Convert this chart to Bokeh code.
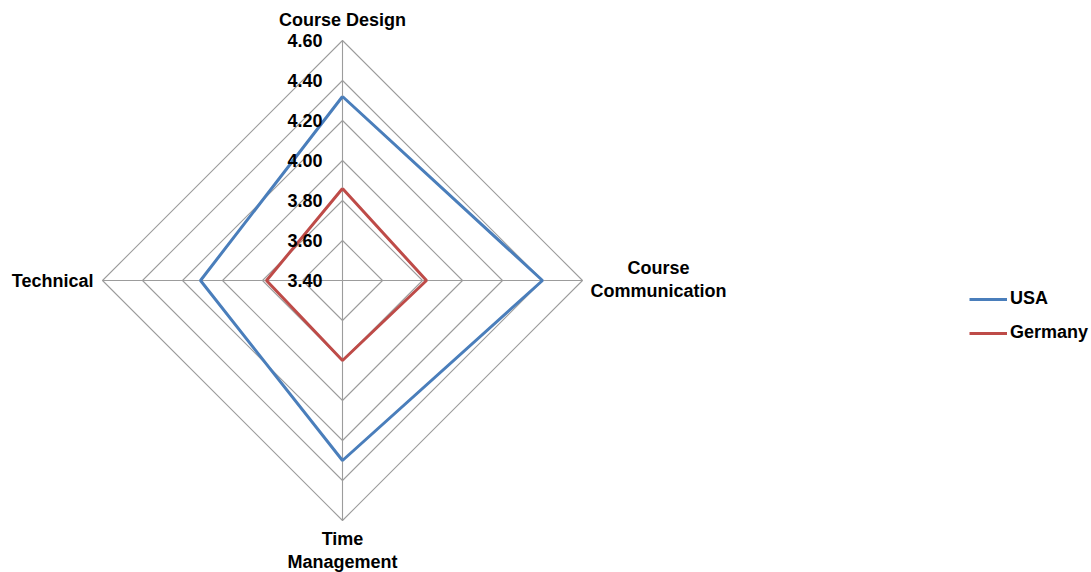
import numpy as np
from bokeh.plotting import figure
from bokeh.models import Range1d, Legend, LegendItem
from bokeh.core.properties import value
from bokeh.embed import file_html
from bokeh.resources import INLINE

# ---- data ----
categories = ["Course Design", "Course\nCommunication", "Time\nManagement", "Technical"]
usa = [4.32, 4.40, 4.30, 4.11]
germany = [3.86, 3.82, 3.80, 3.78]
ring_ticks = [3.40, 3.60, 3.80, 4.00, 4.20, 4.40, 4.60]
ring_labels = ["3.40", "3.60", "3.80", "4.00", "4.20", "4.40", "4.60"]
series_names = ["USA", "Germany"]

# ---- layout / style ----
FONT = "Liberation Sans"
FS = "18px"
W, H = 1091, 572
SCALE = 200.0          # px per value unit
CX, CY = 342, 280      # centre of radar inside the canvas (px from left / top)
r_min, r_max = ring_ticks[0], ring_ticks[-1]
angles = np.pi / 2 - np.arange(len(categories)) * 2 * np.pi / len(categories)
GRID = "#9c9c9c"
COLORS = ["#4a7ebb", "#be4b48"]


def to_xy(vals):
    r = np.asarray(vals, dtype=float) - r_min
    return list(r * np.cos(angles)), list(r * np.sin(angles))


p = figure(width=W, height=H, output_backend="svg", toolbar_location=None,
           x_range=Range1d(-CX / SCALE, (W - CX) / SCALE),
           y_range=Range1d(-(H - CY) / SCALE, CY / SCALE),
           x_axis_type=None, y_axis_type=None, min_border=0,
           background_fill_color="white", border_fill_color="white")
p.grid.visible = False
p.outline_line_color = None

# rings
ring_xs, ring_ys = [], []
for t in ring_ticks[1:]:
    xs, ys = to_xy([t] * len(categories))
    ring_xs.append(xs + [xs[0]])
    ring_ys.append(ys + [ys[0]])
p.multi_line(ring_xs, ring_ys, line_color=GRID, line_width=1.1)

# spokes
ox, oy = to_xy([r_max] * len(categories))
p.multi_line([[0, x] for x in ox], [[0, y] for y in oy], line_color=GRID, line_width=1.1)

# series
renderers = []
for name, vals, col in zip(series_names, [usa, germany], COLORS):
    xs, ys = to_xy(vals)
    r = p.line(xs + [xs[0]], ys + [ys[0]], line_color=col, line_width=3)
    renderers.append(r)

# ring labels
p.text(x=[-20 / SCALE] * len(ring_ticks), y=[t - r_min for t in ring_ticks], text=ring_labels,
       text_font=value(FONT), text_font_size=FS, text_font_style="bold",
       text_align="right", text_baseline="middle", text_color="black")

# category labels (anchor offsets in px from the outer vertex)
label_off = [(0, 21), (76, 1), (0, -30), (-9, 0)]
label_align = ["center", "center", "center", "right"]
for i, cat in enumerate(categories):
    dx, dy = label_off[i]
    p.text(x=[ox[i] + dx / SCALE], y=[oy[i] + dy / SCALE], text=[cat],
           text_font=value(FONT), text_font_size=FS, text_font_style="bold",
           text_align=label_align[i], text_baseline="middle", text_color="black",
           text_line_height=1.12)

legend = Legend(items=[LegendItem(label=n, renderers=[r]) for n, r in zip(series_names, renderers)],
                location=(969, 229), orientation="vertical",
                glyph_width=38, glyph_height=20, label_height=20, label_standoff=3,
                spacing=13, padding=0, margin=0,
                border_line_color=None, background_fill_alpha=0,
                label_text_font=FONT, label_text_font_size=FS, label_text_font_style="bold",
                label_text_color="black")
p.add_layout(legend)

open("out.html", "w").write(file_html(p, INLINE))
